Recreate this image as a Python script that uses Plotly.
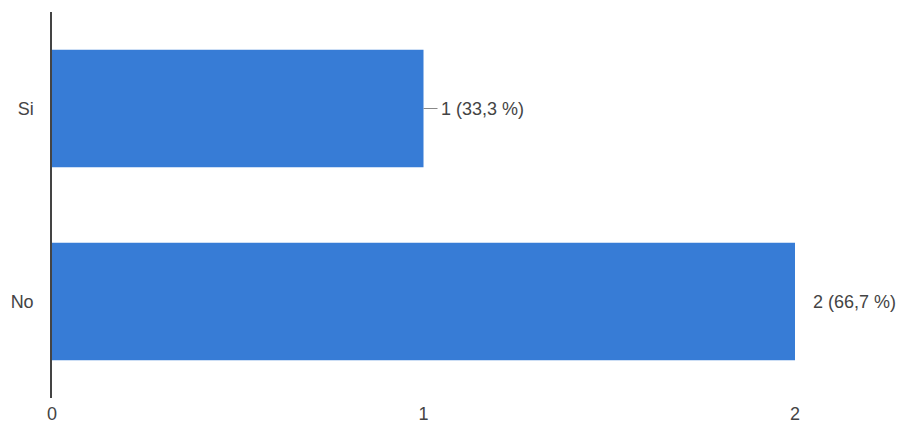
import plotly.graph_objects as go

categories = ["Si", "No"]
values = [1, 2]
labels = ["1 (33,3 %)", "2 (66,7 %)"]
x_ticks = [0, 1, 2]

BLUE = "#377CD6"
FONT = "Liberation Sans, Arial"

fig = go.Figure(go.Bar(
    y=categories, x=values, orientation="h",
    marker=dict(color=BLUE, line=dict(width=0)),
    hoverinfo="skip",
))

for cat, v, lab, line in zip(categories, values, labels, [True, False]):
    if line:
        fig.add_shape(type="line", xref="x", yref="y", xsizemode="pixel",
                      xanchor=v, x0=0, x1=14, y0=cat, y1=cat,
                      line=dict(color="#888888", width=1))
    fig.add_annotation(x=v, y=cat, text=lab, showarrow=False, xanchor="left",
                       xshift=15 if line else 16,
                       font=dict(size=18, color="#444444", family=FONT))

fig.update_layout(
    width=896, height=424,
    margin=dict(l=44, r=109, t=4, b=34, autoexpand=False),
    paper_bgcolor="white", plot_bgcolor="white",
    showlegend=False, bargap=0.39,
    font=dict(family=FONT, size=18, color="#444444"),
    xaxis=dict(range=[0, 2], tickvals=x_ticks, ticktext=[str(t) for t in x_ticks],
               showgrid=False, zeroline=False, showline=False, ticks="",
               ticklabelstandoff=3, fixedrange=True, automargin=False),
    yaxis=dict(autorange="reversed", showgrid=False, zeroline=False,
               showline=True, linecolor="#444444", linewidth=1.5, ticks="",
               ticklabelstandoff=13, fixedrange=True, automargin=False),
)

fig.write_html("out.html")
